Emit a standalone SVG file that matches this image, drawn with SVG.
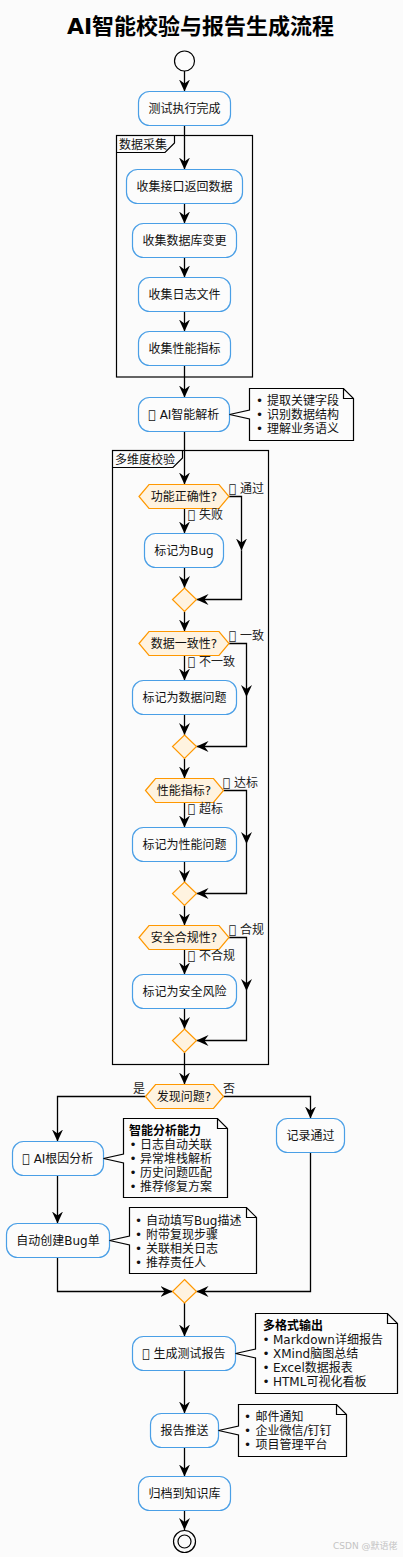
<svg xmlns="http://www.w3.org/2000/svg" width="403" height="1557" viewBox="0 0 403 1557">
<style>
text{font-family:"DejaVu Sans","Noto Sans CJK SC",sans-serif;font-size:12px;fill:#111}
.t{font-size:22px;font-weight:bold;fill:#000;text-anchor:middle}
.n rect{fill:#fcfcfc;stroke:#4a9fe6;stroke-width:1.2}
.n text,.h text{text-anchor:middle}
.h polygon{fill:#fff3e0;stroke:#ff9800;stroke-width:1.2}
.p{fill:none;stroke:#000;stroke-width:1.2}
.c path{fill:none;stroke:#000;stroke-width:1.3}
.a{marker-end:url(#ah)}
.note path{fill:#fcfcfc;stroke:#000;stroke-width:1.2}
.l{fill:#222}
.b{font-weight:bold;fill:#000}
.w{font-size:9px;fill:#c4c4c4}
</style>
<defs>
<marker id="ah" markerUnits="userSpaceOnUse" markerWidth="13" markerHeight="11" refX="12" refY="5.5" orient="auto" viewBox="0 0 13 11"><path d="M12,5.5 L0,0 L4,5.5 L0,11 Z" fill="#000"/></marker>
</defs>
<rect width="403" height="1557" fill="#fbfbfb"/>
<text class="t" x="200.5" y="33.5">AI智能校验与报告生成流程</text>

<g id="part1"><rect class="p" x="116.5" y="135.5" width="136" height="241.5"/><path class="p" d="M116.5,152.5 H165 L174.5,143 V135.5"/><text x="119" y="148.5">数据采集</text></g>
<g id="part2"><rect class="p" x="112.5" y="450.5" width="156" height="614"/><path class="p" d="M112.5,467.5 H173 L182.5,458 V450.5"/><text x="115" y="463.5">多维度校验</text></g>

<g id="connectors" class="c">
<path class="a" d="M184.5,71 V91.5"/>
<path class="a" d="M184.5,125.5 V169.5"/>
<path class="a" d="M184.5,203.5 V223.5"/>
<path class="a" d="M184.5,257.5 V277.5"/>
<path class="a" d="M184.5,311.5 V331.5"/>
<path class="a" d="M184.5,365.5 V397.5"/>
<path class="a" d="M184.5,431.5 V484.5"/>
<path class="a" d="M184.5,508.5 V533.5"/>
<path class="a" d="M184.5,567.5 V588"/>
<path class="a" d="M229,496.5 H241.5 V550.5"/>
<path class="a" d="M241.5,550.5 V599.5 H196.5"/>
<path class="a" d="M184.5,611.5 V631.5"/>
<path class="a" d="M184.5,655.5 V680.5"/>
<path class="a" d="M184.5,714.5 V735"/>
<path class="a" d="M229,643.5 H246.5 V697"/>
<path class="a" d="M246.5,697 V746.5 H196.5"/>
<path class="a" d="M184.5,758.5 V778.5"/>
<path class="a" d="M184.5,802.5 V827.5"/>
<path class="a" d="M184.5,861.5 V882"/>
<path class="a" d="M223.5,790.5 H246.5 V844"/>
<path class="a" d="M246.5,844 V893.5 H196.5"/>
<path class="a" d="M184.5,905.5 V925.5"/>
<path class="a" d="M184.5,949.5 V974.5"/>
<path class="a" d="M184.5,1008.5 V1029"/>
<path class="a" d="M229,937.5 H246.5 V991"/>
<path class="a" d="M246.5,991 V1040.5 H196.5"/>
<path class="a" d="M184.5,1052.5 V1084.5"/>
<path class="a" d="M145.5,1096.5 H57.5 V1141.5"/>
<path class="a" d="M223.5,1096.5 H310.5 V1118.5"/>
<path class="a" d="M57.5,1175.5 V1223.5"/>
<path class="a" d="M57.5,1257.5 V1291.5 H172.5"/>
<path class="a" d="M310.5,1152.5 V1291.5 H196.5"/>
<path class="a" d="M184.5,1303 V1336.5"/>
<path class="a" d="M184.5,1370.5 V1413.5"/>
<path class="a" d="M184.5,1447.5 V1476.5"/>
<path class="a" d="M184.5,1510.5 V1530"/>
</g>

<g id="start"><circle cx="184.5" cy="61" r="10" fill="#fcfcfc" stroke="#000" stroke-width="1.2"/></g>
<g id="n1" class="n"><rect x="138.5" y="91.5" width="92" height="34" rx="11"/><text x="184.5" y="113">测试执行完成</text></g>
<g id="n2" class="n"><rect x="126.5" y="169.5" width="116" height="34" rx="11"/><text x="184.5" y="191">收集接口返回数据</text></g>
<g id="n3" class="n"><rect x="132.5" y="223.5" width="104" height="34" rx="11"/><text x="184.5" y="245">收集数据库变更</text></g>
<g id="n4" class="n"><rect x="138.5" y="277.5" width="92" height="34" rx="11"/><text x="184.5" y="299">收集日志文件</text></g>
<g id="n5" class="n"><rect x="138.5" y="331.5" width="92" height="34" rx="11"/><text x="184.5" y="353">收集性能指标</text></g>
<g id="n6" class="n"><rect x="138.5" y="397.5" width="91" height="34" rx="11"/><text x="184" y="419">&#xE000; AI智能解析</text></g>
<g id="note1" class="note"><path d="M229.5,414.5 L249.5,410 V388.5 H343.5 L353.5,398.5 V440.5 H249.5 V419 Z M343.5,388.5 V398.5 H353.5"/>
<text x="256" y="405">•<tspan x="267">提取关键字段</tspan></text><text x="256" y="419">•<tspan x="267">识别数据结构</tspan></text><text x="256" y="433">•<tspan x="267">理解业务语义</tspan></text></g>

<g id="d1" class="h"><polygon points="139,496.5 149,484.5 219,484.5 229,496.5 219,508.5 149,508.5"/><text x="184" y="501">功能正确性?</text></g>
<text class="l" x="229" y="493">&#xE000; 通过</text>
<text class="l" x="188" y="519">&#xE000; 失败</text>
<g id="n7" class="n"><rect x="144.5" y="533.5" width="79" height="34" rx="11"/><text x="184" y="555">标记为Bug</text></g>
<g id="m1" class="h"><polygon points="184.5,588 196.5,599.5 184.5,611.5 172.5,599.5"/></g>

<g id="d2" class="h"><polygon points="139,643.5 149,631.5 219,631.5 229,643.5 219,655.5 149,655.5"/><text x="184" y="648">数据一致性?</text></g>
<text class="l" x="229" y="640">&#xE000; 一致</text>
<text class="l" x="188" y="666">&#xE000; 不一致</text>
<g id="n8" class="n"><rect x="132.5" y="680.5" width="104" height="34" rx="11"/><text x="184.5" y="702">标记为数据问题</text></g>
<g id="m2" class="h"><polygon points="184.5,735 196.5,746.5 184.5,758.5 172.5,746.5"/></g>

<g id="d3" class="h"><polygon points="145.5,790.5 155.5,778.5 213.5,778.5 223.5,790.5 213.5,802.5 155.5,802.5"/><text x="184" y="795">性能指标?</text></g>
<text class="l" x="223" y="787">&#xE000; 达标</text>
<text class="l" x="188" y="813">&#xE000; 超标</text>
<g id="n9" class="n"><rect x="132.5" y="827.5" width="104" height="34" rx="11"/><text x="184.5" y="849">标记为性能问题</text></g>
<g id="m3" class="h"><polygon points="184.5,882 196.5,893.5 184.5,905.5 172.5,893.5"/></g>

<g id="d4" class="h"><polygon points="139,937.5 149,925.5 219,925.5 229,937.5 219,949.5 149,949.5"/><text x="184" y="942">安全合规性?</text></g>
<text class="l" x="229" y="934">&#xE000; 合规</text>
<text class="l" x="188" y="960">&#xE000; 不合规</text>
<g id="n10" class="n"><rect x="132.5" y="974.5" width="104" height="34" rx="11"/><text x="184.5" y="996">标记为安全风险</text></g>
<g id="m4" class="h"><polygon points="184.5,1029 196.5,1040.5 184.5,1052.5 172.5,1040.5"/></g>

<g id="d5" class="h"><polygon points="145.5,1096.5 155.5,1084.5 213.5,1084.5 223.5,1096.5 213.5,1108.5 155.5,1108.5"/><text x="184" y="1101">发现问题?</text></g>
<text class="l" x="133" y="1093">是</text>
<text class="l" x="223" y="1093">否</text>

<g id="n11" class="n"><rect x="12.5" y="1141.5" width="91" height="34" rx="11"/><text x="58" y="1163">&#xE000; AI根因分析</text></g>
<g id="note2" class="note"><path d="M103.5,1158.5 L123.5,1154 V1118.5 H217.5 L227.5,1128.5 V1197.5 H123.5 V1163 Z M217.5,1118.5 V1128.5 H227.5"/>
<text class="b" x="129" y="1134.5">智能分析能力</text>
<text x="129.5" y="1148.5">•<tspan x="140">日志自动关联</tspan></text><text x="129.5" y="1162.5">•<tspan x="140">异常堆栈解析</tspan></text><text x="129.5" y="1176.5">•<tspan x="140">历史问题匹配</tspan></text><text x="129.5" y="1190.5">•<tspan x="140">推荐修复方案</tspan></text></g>
<g id="n12" class="n"><rect x="6.5" y="1223.5" width="103" height="34" rx="11"/><text x="58" y="1245">自动创建Bug单</text></g>
<g id="note3" class="note"><path d="M109.5,1240.5 L129.5,1236 V1207.5 H246.5 L256.5,1217.5 V1273.5 H129.5 V1245 Z M246.5,1207.5 V1217.5 H256.5"/>
<text x="135" y="1224.5">•<tspan x="146">自动填写Bug描述</tspan></text><text x="135" y="1238.5">•<tspan x="146">附带复现步骤</tspan></text><text x="135" y="1252.5">•<tspan x="146">关联相关日志</tspan></text><text x="135" y="1266.5">•<tspan x="146">推荐责任人</tspan></text></g>
<g id="n13" class="n"><rect x="276.5" y="1118.5" width="68" height="34" rx="11"/><text x="310.5" y="1140">记录通过</text></g>
<g id="m5" class="h"><polygon points="184.5,1279.5 196.5,1291.5 184.5,1303 172.5,1291.5"/></g>

<g id="n14" class="n"><rect x="132.5" y="1336.5" width="103" height="34" rx="11"/><text x="184" y="1358">&#xE000; 生成测试报告</text></g>
<g id="note4" class="note"><path d="M235.5,1353.5 L255.5,1349 V1313.5 H387.5 L397.5,1323.5 V1393.5 H255.5 V1358 Z M387.5,1313.5 V1323.5 H397.5"/>
<text class="b" x="263" y="1330">多格式输出</text>
<text x="262.5" y="1344">•<tspan x="273">Markdown详细报告</tspan></text><text x="262.5" y="1358">•<tspan x="273">XMind脑图总结</tspan></text><text x="262.5" y="1372">•<tspan x="273">Excel数据报表</tspan></text><text x="262.5" y="1386">•<tspan x="273">HTML可视化看板</tspan></text></g>
<g id="n15" class="n"><rect x="150.5" y="1413.5" width="68" height="34" rx="11"/><text x="184.5" y="1435">报告推送</text></g>
<g id="note5" class="note"><path d="M218.5,1430.5 L238.5,1426 V1404.5 H336.5 L346.5,1414.5 V1456.5 H238.5 V1435 Z M336.5,1404.5 V1414.5 H346.5"/>
<text x="244" y="1421">•<tspan x="255.5">邮件通知</tspan></text><text x="244" y="1435">•<tspan x="255.5">企业微信/钉钉</tspan></text><text x="244" y="1449">•<tspan x="255.5">项目管理平台</tspan></text></g>
<g id="n16" class="n"><rect x="138.5" y="1476.5" width="92" height="34" rx="11"/><text x="184.5" y="1498">归档到知识库</text></g>
<g id="end"><circle cx="184.5" cy="1541.5" r="11" fill="none" stroke="#000" stroke-width="1.2"/><circle cx="184.5" cy="1541.5" r="6.5" fill="none" stroke="#000" stroke-width="1.2"/></g>
<text class="w" x="333" y="1549">CSDN @默语佬</text>
</svg>
